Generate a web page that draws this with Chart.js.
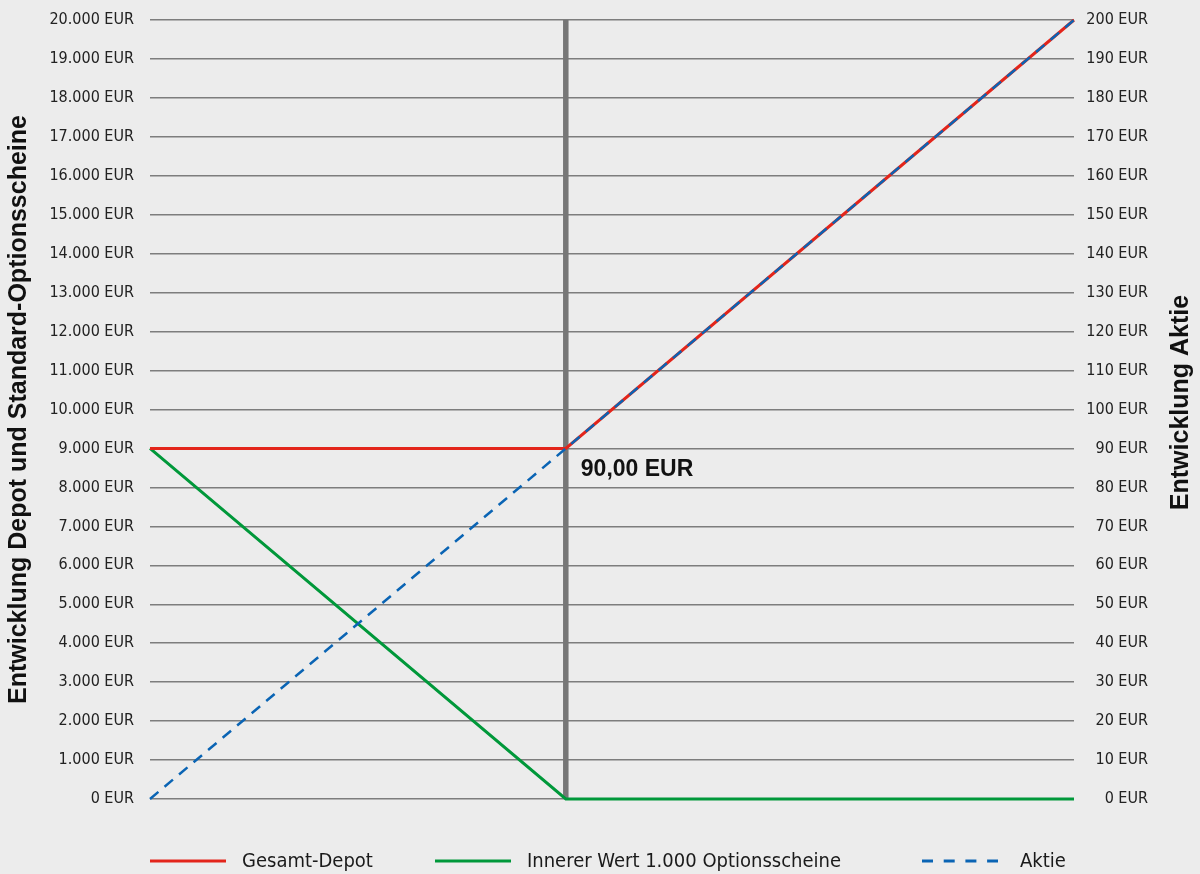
<!DOCTYPE html>
<html lang="de">
<head>
    <meta charset="UTF-8">
    <title>Entwicklung Depot und Standard-Optionsscheine</title>
    <script src="https://cdn.jsdelivr.net/npm/chart.js"></script>
    <style>
        html, body {
            margin: 0;
            padding: 0;
            background: #ececec;
        }
        #wrap {
            width: 1200px;
            height: 874px;
        }
    </style>
</head>
<body>
    <div id="wrap">
        <canvas id="depotChart" width="1200" height="874"></canvas>
    </div>
    <script>
        // Aktienkurs am Laufzeitende (x-Achse)
        const aktienkurs = [0, 90, 200];
        // Werte in EUR (linke Achse)
        const gesamtDepot = [9000, 9000, 20000];
        const innererWert = [9000, 0, 0];
        // Aktie (rechte Achse)
        const aktie = [0, 90, 200];
        const basispreis = 90;

        const legendNames = ['Gesamt-Depot', 'Innerer Wert 1.000 Optionsscheine', 'Aktie'];

        const ROT = '#e3251b';
        const GRUEN = '#00983a';
        const BLAU = '#0a64b4';
        const NARROW = '"Liberation Sans Narrow", "DejaVu Sans Condensed", sans-serif';
        const SANS = '"Liberation Sans", Arial, sans-serif';

        function eur(v) {
            return String(v).replace(/\B(?=(\d{3})+(?!\d))/g, '.') + ' EUR';
        }

        function points(ys) {
            return aktienkurs.map((x, i) => ({ x: x, y: ys[i] }));
        }

        // feste Achsenbreite, keine Extra-Polsterung oben/unten
        function fitAxis(width) {
            return s => {
                s.width = width;
                s.paddingTop = 0;
                s.paddingBottom = 0;
            };
        }

        // graue Linie beim Basispreis + Beschriftung
        const basisLinie = {
            id: 'basisLinie',
            beforeDatasetsDraw(chart) {
                const { ctx, chartArea, scales } = chart;
                const px = scales.x.getPixelForValue(basispreis);
                ctx.save();
                ctx.strokeStyle = '#767676';
                ctx.lineWidth = 5.5;
                ctx.beginPath();
                ctx.moveTo(px, chartArea.top);
                ctx.lineTo(px, chartArea.bottom);
                ctx.stroke();
                ctx.restore();
            },
            afterDatasetsDraw(chart) {
                const { ctx, scales } = chart;
                const px = scales.x.getPixelForValue(basispreis);
                const py = scales.y.getPixelForValue(gesamtDepot[1]);
                ctx.save();
                ctx.fillStyle = '#111';
                ctx.font = 'bold 23px ' + SANS;
                ctx.textBaseline = 'middle';
                ctx.fillText(basispreis.toFixed(2).replace('.', ',') + ' EUR', px + 15, py + 21);
                ctx.restore();
            }
        };

        // Titel der rechten Achse und Legende unten
        const extras = {
            id: 'extras',
            afterDraw(chart) {
                const { ctx, chartArea } = chart;
                const midY = (chartArea.top + chartArea.bottom) / 2;
                ctx.save();
                ctx.translate(1181, midY - 7);
                ctx.rotate(-Math.PI / 2);
                ctx.font = 'bold 25px ' + SANS;
                ctx.fillStyle = '#111';
                ctx.textAlign = 'center';
                ctx.textBaseline = 'middle';
                ctx.fillText('Entwicklung Aktie', 0, 0);
                ctx.restore();

                const items = [
                    { x: 150, color: ROT, dash: [] },
                    { x: 435, color: GRUEN, dash: [] },
                    { x: 922, color: BLAU, dash: [11, 10.7] }
                ];
                const ly = 861;
                ctx.save();
                ctx.font = '20px ' + NARROW;
                ctx.textBaseline = 'middle';
                items.forEach((it, i) => {
                    ctx.strokeStyle = it.color;
                    ctx.lineWidth = 3;
                    ctx.setLineDash(it.dash);
                    ctx.beginPath();
                    ctx.moveTo(it.x, ly);
                    ctx.lineTo(it.x + 76, ly);
                    ctx.stroke();
                    ctx.fillStyle = '#1a1a1a';
                    ctx.fillText(legendNames[i], it.x + (i === 2 ? 98 : 92), ly + 1);
                });
                ctx.restore();
            }
        };

        const ctx = document.getElementById('depotChart').getContext('2d');

        new Chart(ctx, {
            type: 'line',
            data: {
                datasets: [
                    {
                        label: legendNames[0],
                        data: points(gesamtDepot),
                        borderColor: ROT,
                        borderWidth: 3,
                        order: 1,
                        yAxisID: 'y'
                    },
                    {
                        label: legendNames[1],
                        data: points(innererWert),
                        borderColor: GRUEN,
                        borderWidth: 3,
                        order: 2,
                        yAxisID: 'y'
                    },
                    {
                        label: legendNames[2],
                        data: points(aktie),
                        borderColor: BLAU,
                        borderWidth: 2.5,
                        borderDash: [11, 8],
                        order: 0,
                        yAxisID: 'y2'
                    }
                ]
            },
            options: {
                responsive: false,
                animation: false,
                layout: {
                    padding: { top: 20, right: 52, bottom: 75, left: 0 }
                },
                elements: {
                    point: { radius: 0 },
                    line: { tension: 0 }
                },
                datasets: {
                    line: { clip: 6 }
                },
                plugins: {
                    legend: { display: false },
                    tooltip: { enabled: false }
                },
                scales: {
                    x: {
                        type: 'linear',
                        min: 0,
                        max: 200,
                        display: false
                    },
                    y: {
                        position: 'left',
                        min: 0,
                        max: 20000,
                        afterFit: fitAxis(150),
                        border: { display: false },
                        grid: { color: '#7d7d7d', lineWidth: 1.5, drawTicks: false },
                        ticks: {
                            stepSize: 1000,
                            padding: 16,
                            color: '#222',
                            font: { family: NARROW, size: 16 },
                            callback: v => eur(v)
                        },
                        title: {
                            display: true,
                            text: 'Entwicklung Depot und Standard-Optionsscheine',
                            color: '#111',
                            font: { family: SANS, size: 25, weight: 'bold' },
                            padding: { top: 4, bottom: 0 }
                        }
                    },
                    y2: {
                        position: 'right',
                        min: 0,
                        max: 200,
                        afterFit: fitAxis(74),
                        border: { display: false },
                        grid: { display: false, drawTicks: false },
                        ticks: {
                            stepSize: 10,
                            crossAlign: 'far',
                            color: '#222',
                            font: { family: NARROW, size: 16 },
                            callback: v => eur(v)
                        }
                    }
                }
            },
            plugins: [basisLinie, extras]
        });
    </script>
</body>
</html>
